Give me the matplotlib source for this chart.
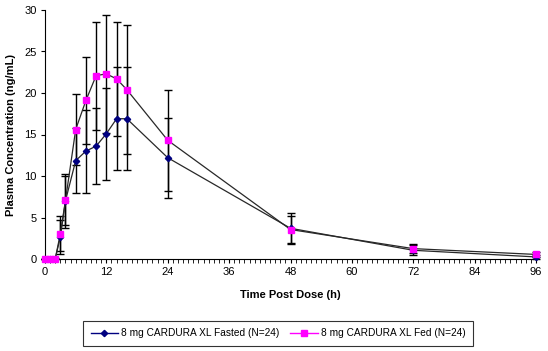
import matplotlib
matplotlib.use("Agg")
import matplotlib.pyplot as plt
from matplotlib.ticker import MultipleLocator
from matplotlib.lines import Line2D

plt.rcParams['font.family'] = ['Liberation Sans', 'DejaVu Sans']

time_h = [0, 1, 2, 3, 4, 6, 8, 10, 12, 14, 16, 24, 48, 72, 96]
fasted = [0.0, 0.0, 0.05, 2.65, 7.0, 11.85, 13.0, 13.6, 15.1, 16.9, 16.9, 12.2, 3.7, 1.05, 0.25]
fasted_sd = [0.0, 0.0, 0.1, 2.0, 3.3, 3.9, 5.0, 4.6, 5.55, 6.2, 6.2, 4.8, 1.85, 0.6, 0.25]
fed = [0.0, 0.0, 0.0, 3.05, 7.05, 15.6, 19.1, 22.1, 22.3, 21.7, 20.4, 14.3, 3.55, 1.25, 0.55]
fed_sd = [0.0, 0.0, 0.0, 2.1, 3.0, 4.3, 5.2, 6.5, 7.1, 6.9, 7.8, 6.1, 1.6, 0.5, 0.3]

label_fasted = "8 mg CARDURA XL Fasted (N=24)"
label_fed = "8 mg CARDURA XL Fed (N=24)"

fig = plt.figure(figsize=(5.48, 3.51), dpi=100)
ax = fig.add_axes([45/548, 1-259/351, (536-45)/548, (259-10)/351])

line_col = '#282828'
ax.errorbar(time_h, fasted, yerr=fasted_sd, fmt='none', ecolor='black',
            elinewidth=1.0, capsize=2.8, capthick=1.0, zorder=2)
ax.errorbar(time_h, fed, yerr=fed_sd, fmt='none', ecolor='black',
            elinewidth=1.0, capsize=2.8, capthick=1.0, zorder=2)
ax.plot(time_h, fasted, color=line_col, lw=0.9, zorder=3)
ax.plot(time_h, fed, color=line_col, lw=0.9, zorder=3)
ax.plot(time_h, fasted, linestyle='none', marker='D', ms=3.2,
        color='#000080', mec='#000080', zorder=4)
ax.plot(time_h, fed, linestyle='none', marker='s', ms=4.4,
        color='#FF00FF', mec='#FF00FF', zorder=5)

ax.set_xlim(0, 96)
ax.set_ylim(0, 30)
ax.xaxis.set_major_locator(MultipleLocator(12))
ax.xaxis.set_minor_locator(MultipleLocator(1))
ax.yaxis.set_major_locator(MultipleLocator(5))
ax.tick_params(axis='both', which='major', direction='out', length=3,
               width=0.8, labelsize=8, pad=3)
ax.tick_params(axis='x', which='minor', direction='out', length=3, width=0.6)
ax.spines['top'].set_visible(False)
ax.spines['right'].set_visible(False)
ax.spines['left'].set_linewidth(0.8)
ax.spines['bottom'].set_linewidth(0.8)
for art in ax.lines + ax.collections:
    art.set_clip_on(False)

ax.set_xlabel("Time Post Dose (h)", fontsize=8, fontweight='bold', labelpad=9)
ax.set_ylabel("Plasma Concentration (ng/mL)", fontsize=8, fontweight='bold', labelpad=6)

handles = [
    Line2D([], [], color='#000080', lw=1.0, marker='D', ms=3.2),
    Line2D([], [], color='#FF00FF', lw=1.0, marker='s', ms=4.4),
]
leg = fig.legend(handles, [label_fasted, label_fed], loc='center',
                 bbox_to_anchor=(278/548, 1-333.5/351), ncol=2, fontsize=7.3,
                 frameon=True, fancybox=False, edgecolor='black',
                 handlelength=2.7, columnspacing=1.1, borderpad=0.75,
                 borderaxespad=0, handletextpad=0.3)
leg.get_frame().set_linewidth(0.8)

fig.savefig("out.png", dpi=100)
